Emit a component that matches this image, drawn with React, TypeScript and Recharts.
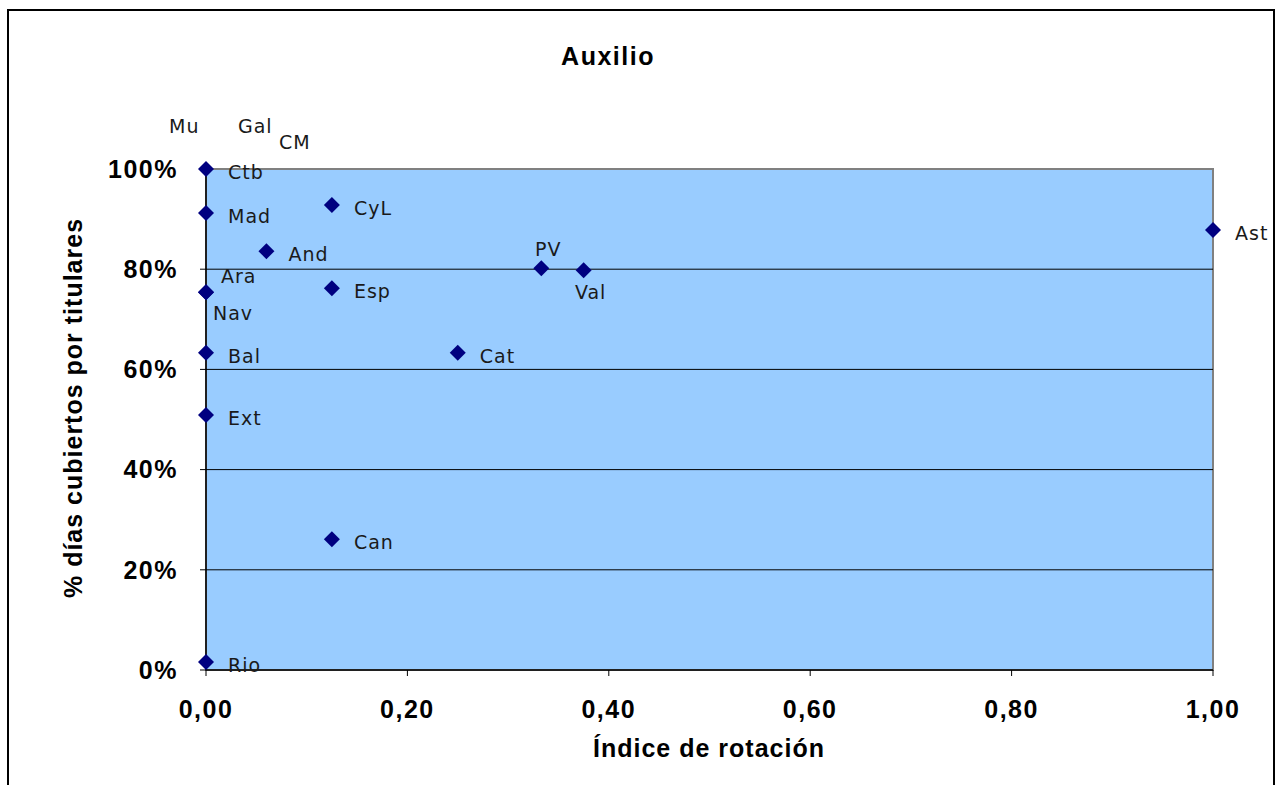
import { ScatterChart, Scatter, XAxis, YAxis, ReferenceArea, ReferenceLine } from 'recharts'

// comunidades y valores
const regions = ['Ctb', 'Mad', 'And', 'CyL', 'Ara', 'Nav', 'Esp', 'PV', 'Val', 'Ast', 'Bal', 'Cat', 'Ext', 'Can', 'Rio']
const rotation = [0, 0, 0.06, 0.125, 0, 0, 0.125, 0.333, 0.375, 1.0, 0, 0.25, 0, 0.125, 0]
const coverage = [1.0, 0.912, 0.836, 0.928, 0.754, 0.754, 0.762, 0.802, 0.798, 0.878, 0.633, 0.633, 0.509, 0.261, 0.016]
const labelPos = ['right', 'right', 'right', 'right', 'above', 'below', 'right', 'top', 'bottom', 'right', 'right', 'right', 'right', 'right', 'right']
const offLabels = ['Mu', 'Gal', 'CM']

const xTicks = [0, 0.2, 0.4, 0.6, 0.8, 1.0]
const yTicks = [0, 0.2, 0.4, 0.6, 0.8, 1.0]
const gridLines = [0.2, 0.4, 0.6, 0.8]

const data = regions.map((name, i) => ({ name, x: rotation[i], y: coverage[i], pos: labelPos[i] }))

const boldFont = '"Liberation Sans", Arial, sans-serif'
const labelFont = '"DejaVu Sans", Verdana, sans-serif'

const Diamond = (props: any) => {
  const { cx, cy, payload } = props
  if (cx == null || cy == null) return null
  const r = 8
  let tx = cx + 22
  let ty = cy + 3
  let anchor: 'start' | 'middle' = 'start'
  if (payload.pos === 'above') { tx = cx + 15; ty = cy - 16 }
  if (payload.pos === 'below') { tx = cx + 7; ty = cy + 21 }
  if (payload.pos === 'top') { tx = cx + 7; ty = cy - 19; anchor = 'middle' }
  if (payload.pos === 'bottom') { tx = cx + 7; ty = cy + 22; anchor = 'middle' }
  return (
    <g>
      <polygon points={`${cx},${cy - r} ${cx + r},${cy} ${cx},${cy + r} ${cx - r},${cy}`} fill="#000080" />
      <text x={tx} y={ty} textAnchor={anchor} dominantBaseline="central" fontFamily={labelFont} fontSize={19} letterSpacing={1} fill="#1a1a1a">
        {payload.name}
      </text>
    </g>
  )
}

const tickStyle = { fontSize: 25, fontWeight: 'bold', fill: '#000', fontFamily: boldFont, letterSpacing: 1.5 }

export default function App() {
  return (
    <div style={{ position: 'absolute', left: 0, top: 0, width: 1282, height: 785, background: '#fff', overflow: 'hidden' }}>
      <div style={{ position: 'absolute', left: 7, top: 9, width: 1268, height: 800, border: '2px solid #000', boxSizing: 'border-box' }} />
      <div style={{ position: 'absolute', left: 0, width: 1216, top: 42, textAlign: 'center', fontFamily: boldFont, fontWeight: 'bold', fontSize: 25, letterSpacing: 1.5 }}>
        Auxilio
      </div>
      <div style={{ position: 'absolute', left: 409, width: 600, top: 734, textAlign: 'center', fontFamily: boldFont, fontWeight: 'bold', fontSize: 25, letterSpacing: 1 }}>
        Índice de rotación
      </div>
      <div style={{ position: 'absolute', left: 73 - 300, width: 600, top: 408 - 15, height: 30, lineHeight: '30px', textAlign: 'center', transform: 'rotate(-90deg)', fontFamily: boldFont, fontWeight: 'bold', fontSize: 25, letterSpacing: 1 }}>
        % días cubiertos por titulares
      </div>
      {offLabels.map((t, i) => (
        <div key={t} style={{ position: 'absolute', left: [169, 238, 279][i], top: [115, 115, 131][i], fontFamily: labelFont, fontSize: 19, letterSpacing: 1, color: '#1a1a1a' }}>
          {t}
        </div>
      ))}
      <div style={{ position: 'absolute', left: 0, top: 0 }}>
        <ScatterChart width={1282} height={785} margin={{ top: 169, right: 69, bottom: 55, left: 86 }}>
          <ReferenceArea x1={0} x2={1} y1={0} y2={1} fill="#99CCFF" fillOpacity={1} stroke="#808080" strokeWidth={2} />
          {gridLines.map((v) => (
            <ReferenceLine key={v} y={v} stroke="#000" strokeWidth={1} />
          ))}
          <XAxis
            type="number"
            dataKey="x"
            domain={[0, 1]}
            ticks={xTicks}
            height={60}
            tickSize={6}
            tickMargin={24}
            tickFormatter={(v: number) => v.toFixed(2).replace('.', ',')}
            axisLine={{ stroke: '#000', strokeWidth: 1.5 }}
            tickLine={{ stroke: '#000' }}
            tick={tickStyle}
            interval={0}
          />
          <YAxis
            type="number"
            dataKey="y"
            domain={[0, 1]}
            ticks={yTicks}
            width={120}
            tickSize={6}
            tickMargin={22}
            tickFormatter={(v: number) => `${Math.round(v * 100)}%`}
            axisLine={{ stroke: '#000', strokeWidth: 1.5 }}
            tickLine={{ stroke: '#000' }}
            tick={tickStyle}
            interval={0}
          />
          <Scatter data={data} shape={Diamond} isAnimationActive={false} />
        </ScatterChart>
      </div>
    </div>
  )
}
